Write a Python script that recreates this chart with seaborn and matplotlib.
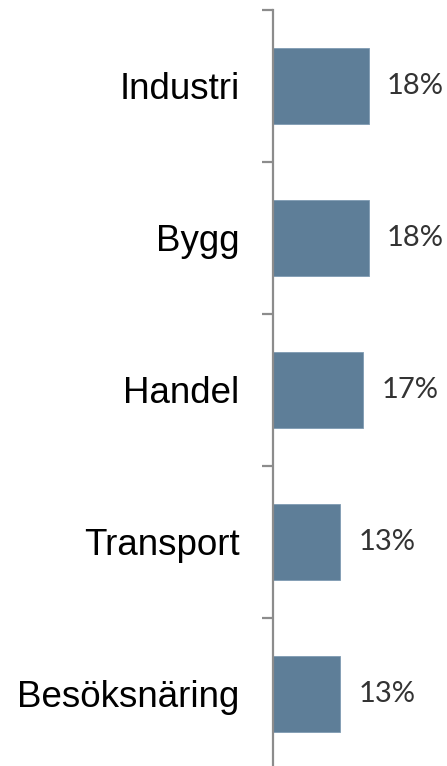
import matplotlib
matplotlib.use("Agg")
import matplotlib.pyplot as plt
import seaborn as sns
import pandas as pd
import numpy as np

categories = ["Industri", "Bygg", "Handel", "Transport", "Besöksnäring"]
values = [17.9, 17.9, 16.9, 12.6, 12.6]

df = pd.DataFrame({"kategori": categories, "andel": values})

sns.set_theme(style="white")
fig = plt.figure(figsize=(4.47, 7.66), dpi=100)
ax = fig.add_axes([273 / 447, 0.0, 1 - 273 / 447, 1 - 10 / 766])

sns.barplot(data=df, y="kategori", x="andel", orient="h", color="#5e7e98",
            saturation=1, width=0.5, ax=ax, edgecolor="#7f9bb2", linewidth=0.6)

ax.set_xlim(0, 32.6)
ax.set_ylim(4.474, -0.5)
ax.set_xlabel("")
ax.set_ylabel("")
ax.set_xticks([])

for s in ["top", "right", "bottom"]:
    ax.spines[s].set_visible(False)
ax.spines["left"].set_color("#8c8c8c")
ax.spines["left"].set_linewidth(1.6)

ax.set_yticks(range(len(categories)))
ax.set_yticklabels(categories, fontsize=26.5, fontfamily="Liberation Sans", color="black")
ax.tick_params(axis="y", which="major", length=0, pad=24)
ax.set_yticks(np.arange(-0.5, len(categories) - 1, 1.0), minor=True)
ax.tick_params(axis="y", which="minor", length=8, width=1.6, color="#8c8c8c", left=True)

labels = [f"{round(v):d}%" for v in values]
ax.bar_label(ax.containers[0], labels=labels, padding=13, fontsize=21,
             fontfamily="Lato", color="#333333")

fig.savefig("out.png", dpi=100)
